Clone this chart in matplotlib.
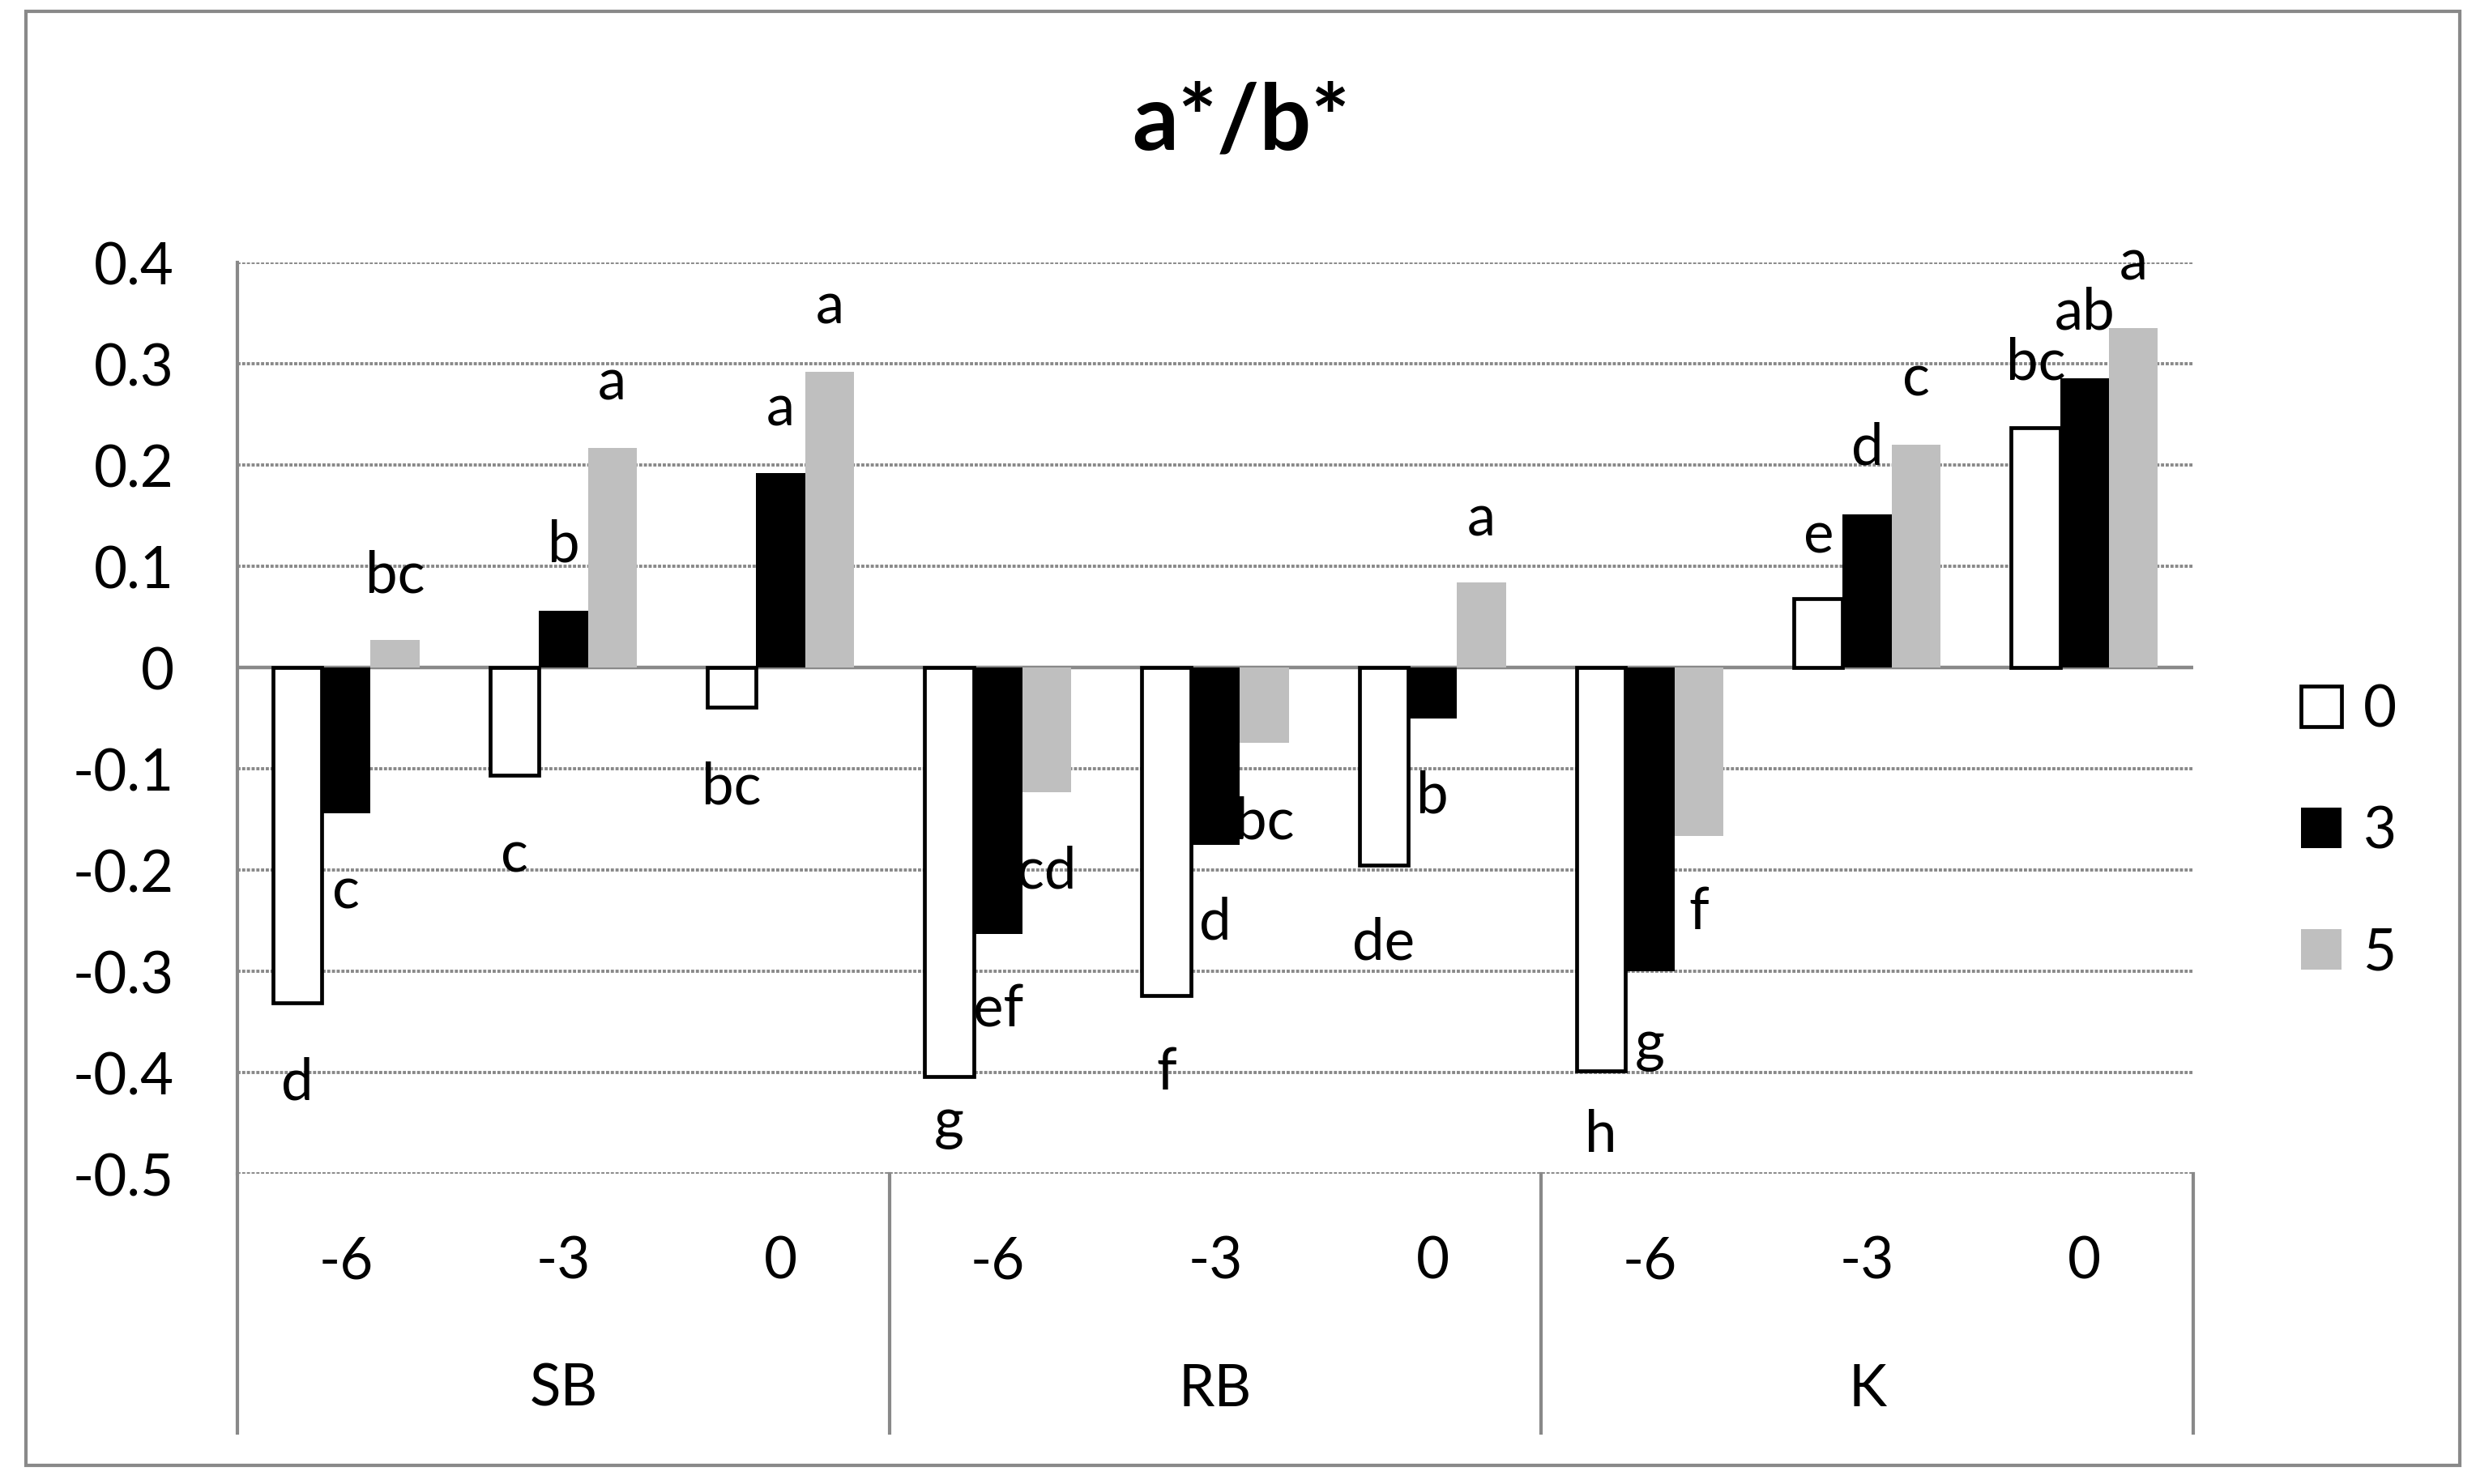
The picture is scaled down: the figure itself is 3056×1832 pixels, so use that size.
import numpy as np
import matplotlib
matplotlib.use("Agg")
import matplotlib.pyplot as plt
from matplotlib.patches import Patch, Rectangle
from matplotlib.transforms import blended_transform_factory

plt.rcParams['font.family'] = ['Lato', 'DejaVu Sans']

# data
groups = ['SB', 'RB', 'K']
temps = ['-6', '-3', '0']
series = ['0', '3', '5']
vals_0 = [-0.331, -0.106, -0.039, -0.404, -0.324, -0.195, -0.398, 0.068, 0.237]
vals_3 = [-0.144, 0.056, 0.192, -0.263, -0.175, -0.050, -0.300, 0.151, 0.286]
vals_5 = [0.027, 0.217, 0.292, -0.123, -0.074, 0.084, -0.166, 0.220, 0.335]

# significance letters
let_0 = ['d', 'c', 'bc', 'g', 'f', 'de', 'h', 'e', 'bc']
let_3 = ['c', 'b', 'a', 'ef', 'd', 'b', 'g', 'd', 'ab']
let_5 = ['bc', 'a', 'a', 'cd', 'bc', 'a', 'f', 'c', 'a']

# where the letters sit (baseline, data units)
lab_y_0 = [-0.426, -0.201, -0.134, -0.465, -0.416, -0.288, -0.478, 0.114, 0.285]
lab_y_3 = [-0.237, 0.105, 0.240, -0.354, -0.268, -0.143, -0.388, 0.201, 0.335]
lab_y_5 = [0.075, 0.265, 0.340, -0.217, -0.168, 0.131, -0.258, 0.269, 0.384]

W, H = 3056, 1833
GRAY = '#898989'
FS = 51

fig = plt.figure(figsize=(W / 100, H / 100), dpi=100)
ax = fig.add_axes([293 / W, 1 - 1450 / H, (2707 - 293) / W, (1450 - 325) / H])

x = np.arange(len(vals_0))
bw = 0.225
ax.bar(x - bw, vals_0, bw, color='white', edgecolor='black', linewidth=3.4, zorder=3, label=series[0])
ax.bar(x, vals_3, bw, color='black', linewidth=0, zorder=3, label=series[1])
ax.bar(x + bw, vals_5, bw, color='#BFBFBF', linewidth=0, zorder=3, label=series[2])

for off, labs, ys in [(-bw, let_0, lab_y_0), (0, let_3, lab_y_3), (bw, let_5, lab_y_5)]:
    for xi, t, yy in zip(x, labs, ys):
        ax.text(xi + off, yy, t, ha='center', va='baseline', fontsize=FS, zorder=5)

ax.set_xlim(-0.5, len(x) - 0.5)
ax.set_ylim(-0.5, 0.4)
yt = np.round(np.arange(-0.5, 0.41, 0.1), 1) + 0.0
ax.set_yticks(yt)
ax.set_yticklabels(['%g' % v for v in yt], fontsize=FS)
ax.tick_params(axis='y', length=0, pad=56)
ax.set_xticks([])
ax.grid(axis='y', color=GRAY, linestyle=(0, (1, 0.5)), linewidth=2.8, zorder=0)
ax.set_axisbelow(True)
ax.axhline(0, color=GRAY, linewidth=3.2, zorder=2)
for s in ['top', 'right', 'bottom']:
    ax.spines[s].set_visible(False)
ax.spines['left'].set_color(GRAY)
ax.spines['left'].set_linewidth(3.0)

# two-level category axis below the plot
tr = blended_transform_factory(ax.transData, ax.transAxes)
for i, xi in enumerate(x):
    ax.text(xi, -0.096, temps[i % 3], transform=tr, ha='center', va='center', fontsize=FS)
for g, name in enumerate(groups):
    ax.text(3 * g + 1, -0.236, name, transform=tr, ha='center', va='center', fontsize=FS)
for sx in [-0.5, 2.5, 5.5, 8.5]:
    ax.plot([sx, sx], [0, -0.284], transform=tr, color=GRAY, linewidth=3.0, clip_on=False)

fig.text(1532 / W, 1 - 152 / H, 'a*/b*', ha='center', va='center', fontsize=81, fontweight='bold')

handles = [Patch(facecolor='white', edgecolor='black', linewidth=3.4),
           Patch(facecolor='black'),
           Patch(facecolor='#BFBFBF')]
fig.legend(handles, series, loc='center left', bbox_to_anchor=(2840 / W, 1 - 1027 / H),
           frameon=False, fontsize=FS, handlelength=0.7, handleheight=0.7,
           handletextpad=0.38, labelspacing=1.2, borderpad=0, borderaxespad=0)

fig.patches.append(Rectangle((32 / W, 1 - 1810 / H), 3004 / W, 1795 / H, transform=fig.transFigure,
                             fill=False, edgecolor=GRAY, linewidth=3.0))

fig.savefig('out.png', dpi=100)
